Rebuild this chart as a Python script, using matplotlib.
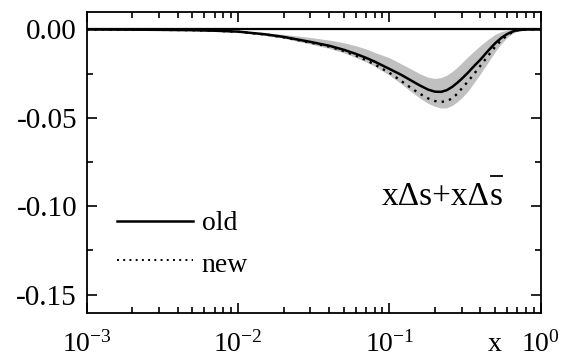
import numpy as np
import matplotlib
matplotlib.use("Agg")
import matplotlib.pyplot as plt
import matplotlib.transforms as mtransforms
from matplotlib.ticker import FixedLocator, LogLocator, NullFormatter, MultipleLocator
from matplotlib.lines import Line2D

plt.rcParams['font.family'] = ['Liberation Serif', 'DejaVu Serif']
plt.rcParams['mathtext.fontset'] = 'custom'
plt.rcParams['mathtext.rm'] = 'Liberation Serif'
plt.rcParams['mathtext.it'] = 'Liberation Serif:italic'
plt.rcParams['mathtext.bf'] = 'Liberation Serif:bold'
plt.rcParams['axes.unicode_minus'] = False

# data
x = [0.001, 0.002, 0.003, 0.005, 0.007, 0.01, 0.015, 0.02, 0.03, 0.04, 0.05, 0.06,
     0.07, 0.08, 0.1, 0.12, 0.14, 0.16, 0.18, 0.2, 0.22, 0.24, 0.26, 0.28, 0.3,
     0.33, 0.36, 0.4, 0.45, 0.5, 0.55, 0.6, 0.65, 0.7, 0.8, 1.0]
old = [0.0, -0.0001, -0.0002, -0.0004, -0.0007, -0.0012, -0.0027, -0.0042, -0.0070,
       -0.0092, -0.0115, -0.0138, -0.0160, -0.0182, -0.0223, -0.0257, -0.0290,
       -0.0318, -0.0340, -0.0352, -0.0353, -0.0343, -0.0325, -0.0303, -0.0280,
       -0.0245, -0.0210, -0.0170, -0.0120, -0.0078, -0.0047, -0.0026, -0.0012,
       -0.0004, 0.0, 0.0]
new = [0.0, -0.0001, -0.0002, -0.0004, -0.0007, -0.0013, -0.0028, -0.0044, -0.0074,
       -0.0097, -0.0122, -0.0148, -0.0173, -0.0198, -0.0245, -0.0292, -0.0333,
       -0.0365, -0.0390, -0.0405, -0.0410, -0.0405, -0.0390, -0.0365, -0.0335,
       -0.0295, -0.0255, -0.0205, -0.0148, -0.0098, -0.0060, -0.0033, -0.0015,
       -0.0005, 0.0, 0.0]
band_upper = [0.0, 0.0, -0.0001, -0.0002, -0.0004, -0.0008, -0.0018, -0.0028, -0.0045,
              -0.0060, -0.0075, -0.0092, -0.0110, -0.0130, -0.0160, -0.0195, -0.0225,
              -0.0252, -0.0270, -0.0277, -0.0272, -0.0258, -0.0238, -0.0215, -0.0190,
              -0.0155, -0.0125, -0.0090, -0.0055, -0.0028, -0.0012, -0.0004, 0.0,
              0.0002, 0.0004, 0.0002]
band_lower = [0.0, -0.0002, -0.0003, -0.0006, -0.0010, -0.0016, -0.0033, -0.0050, -0.0082,
              -0.0107, -0.0132, -0.0158, -0.0183, -0.0208, -0.0258, -0.0308, -0.0353,
              -0.0390, -0.0418, -0.0435, -0.0445, -0.0443, -0.0430, -0.0410, -0.0388,
              -0.0350, -0.0305, -0.0250, -0.0185, -0.0125, -0.0080, -0.0045, -0.0022,
              -0.0010, -0.0002, 0.0]

yticks = [0.0, -0.05, -0.10, -0.15]
ytick_labels = ['0.00', '-0.05', '-0.10', '-0.15']
xticks = [1e-3, 1e-2, 1e-1, 1e0]
xtick_labels = [r'$\mathregular{10^{-3}}$', r'$\mathregular{10^{-2}}$',
                r'$\mathregular{10^{-1}}$', r'$\mathregular{10^{0}}$']
legend_labels = ['old', 'new']

fig = plt.figure(figsize=(5.65, 3.58), dpi=100)
ax = fig.add_axes([0.1535, 0.1265, 0.957 - 0.1535, 0.967 - 0.1265])

ax.fill_between(x, band_lower, band_upper, color='#c0c0c0', linewidth=0, zorder=1)
ax.axhline(0.0, color='black', lw=1.6, zorder=2)
ax.plot(x, old, color='black', lw=1.8, zorder=3)
ax.plot(x, new, color='black', lw=1.7, linestyle=(0, (1, 2.2)), zorder=3)

ax.set_xscale('log')
ax.set_xlim(1e-3, 1.0)
ax.set_ylim(-0.1603, 0.0100)

ax.xaxis.set_major_locator(FixedLocator(xticks))
ax.set_xticklabels(xtick_labels)
ax.xaxis.set_minor_locator(LogLocator(base=10, subs=np.arange(2, 10)))
ax.xaxis.set_minor_formatter(NullFormatter())
ax.yaxis.set_major_locator(FixedLocator(yticks))
ax.set_yticklabels(ytick_labels)
ax.yaxis.set_minor_locator(MultipleLocator(0.025))

ax.tick_params(which='both', direction='in', top=True, right=True, width=1.2)
ax.tick_params(which='major', length=7)
ax.tick_params(axis='x', which='major', pad=13, labelsize=20)
ax.tick_params(axis='y', which='major', pad=7, labelsize=21)
ax.tick_params(which='minor', length=4)
for s in ax.spines.values():
    s.set_linewidth(1.3)

# legend drawn manually
ax.plot([0.00159, 0.00506], [-0.1083, -0.1083], color='black', lw=1.8)
ax.text(0.00575, -0.1136, legend_labels[0], fontsize=20, va='baseline', ha='left')
ax.plot([0.00159, 0.00506], [-0.1305, -0.1305], color='black', lw=1.4,
        linestyle=(0, (1, 2.2)))
ax.text(0.00575, -0.1371, legend_labels[1], fontsize=20, va='baseline', ha='left')

# annotation with overlined s
blend = mtransforms.blended_transform_factory(ax.transAxes, ax.transData)
t1 = ax.text(0.650, -0.0994, 'x\u0394s+x\u0394', fontsize=24, ha='left', va='baseline',
             transform=blend)
fig.canvas.draw()
r = fig.canvas.get_renderer()
bb1 = t1.get_window_extent(r)
x_s_axes = ax.transAxes.inverted().transform((bb1.x1, bb1.y0))[0]
t2 = ax.text(x_s_axes, -0.0994, 's', fontsize=24, ha='left', va='baseline',
             transform=blend)
fig.canvas.draw()
bb2 = t2.get_window_extent(r)
ybar = bb1.y1 + 6
fig.add_artist(Line2D([bb2.x0 + 1, bb2.x1 - 1], [ybar, ybar], color='black', lw=1.3,
                      transform=None))

fig.text(488 / 565, 1 - 351 / 358, 'x', fontsize=20, ha='left', va='baseline')

fig.savefig('out.png', dpi=100)
